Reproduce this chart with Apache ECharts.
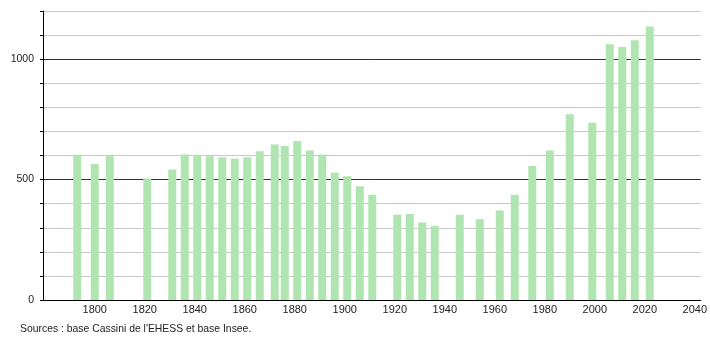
<!DOCTYPE html>
<html>
<head>
<meta charset="utf-8">
<script src="https://cdn.jsdelivr.net/npm/echarts@6/dist/echarts.min.js"></script>
<style>
html,body{margin:0;padding:0;background:#fff;}
#chart{width:710px;height:340px;}
</style>
</head>
<body>
<div id="chart"></div>
<script>
const years = [1793,1800,1806,1821,1831,1836,1841,1846,1851,1856,1861,1866,1872,1876,1881,1886,1891,1896,1901,1906,1911,1921,1926,1931,1936,1946,1954,1962,1968,1975,1982,1990,1999,2006,2011,2016,2022];
const population = [603,565,597,504,542,604,603,597,593,586,593,618,646,639,660,621,604,528,514,472,437,354,357,322,308,354,336,372,437,556,621,771,736,1062,1051,1079,1136];
const xTicks = [1800,1820,1840,1860,1880,1900,1920,1940,1960,1980,2000,2020,2040];
const yLabels = [0,500,1000];
const sourceText = "Sources : base Cassini de l'EHESS et base Insee.";

const chart = echarts.init(document.getElementById('chart'), null, {renderer:'canvas'});
const font = "'Liberation Sans', Arial, sans-serif";
chart.setOption({
  animation:false,
  backgroundColor:'#fff',
  grid:{left:43,right:9,top:11,bottom:40,containLabel:false},
  xAxis:{
    type:'value',
    min:1779.3,
    max:2042.4,
    axisLine:{show:true,lineStyle:{color:'#000',width:1}},
    axisTick:{show:false},
    splitLine:{show:false},
    axisLabel:{
      customValues:xTicks,
      color:'#222',fontSize:11,fontFamily:font,margin:4,
      formatter:function(v){return String(Math.round(v));}
    }
  },
  yAxis:{
    type:'value',
    min:0,max:1200,interval:100,
    axisLine:{show:true,lineStyle:{color:'#000',width:1}},
    axisTick:{show:true,length:3,lineStyle:{color:'#000'}},
    axisLabel:{
      color:'#222',fontSize:10.5,fontFamily:font,margin:9,
      formatter:function(v){return yLabels.indexOf(v)>=0?String(v):'';}
    },
    splitLine:{show:true,lineStyle:{color:['#333','#c8c8c8','#c8c8c8','#c8c8c8','#c8c8c8'],width:1}}
  },
  series:[{
    type:'bar',
    data:years.map((y,i)=>[y,population[i]]),
    barWidth:8,
    itemStyle:{color:'#b0e4b0'},
    z:3
  }],
  graphic:[{
    type:'text',left:20,top:324,
    style:{text:sourceText,fill:'#222',font:'10.4px '+font}
  }]
});
</script>
</body>
</html>
